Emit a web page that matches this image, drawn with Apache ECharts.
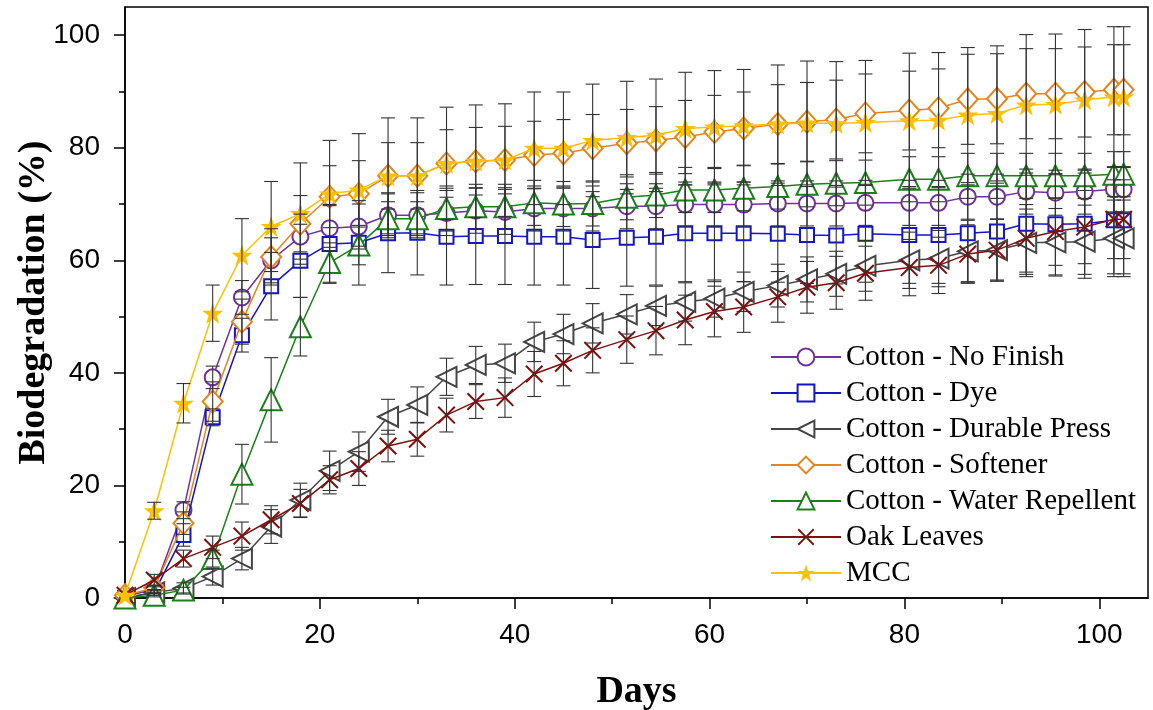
<!DOCTYPE html>
<html><head><meta charset="utf-8">
<script src="https://cdn.jsdelivr.net/npm/echarts@6/dist/echarts.min.js"></script>
<style>html,body{margin:0;padding:0;background:#fff}#c{width:1153px;height:710px}</style>
</head><body><div id="c"></div>
<script>
const days = [0,3,6,9,12,15,18,21,24,27,30,33,36,39,42,45,48,51.5,54.5,57.5,60.5,63.5,67,70,73,76,80.5,83.5,86.5,89.5,92.5,95.5,98.5,101.5,102.5];

const seriesNames = ['Cotton - No Finish','Cotton - Dye','Cotton - Durable Press','Cotton - Softener','Cotton - Water Repellent','Oak Leaves','MCC'];

const noFinish = [0.3,1.5,15.6,39.2,53.4,60.0,64.2,65.7,66.0,68.0,68.0,68.4,68.8,68.6,69.2,69.2,69.2,69.6,69.6,69.9,69.9,69.9,70.1,70.1,70.1,70.2,70.2,70.2,71.3,71.3,72.2,72.0,72.2,72.6,72.6];
const noFinishErr = [0,0.5,1.5,2,3,4,4,4,4,4,4,4,4,4,4,4,4,4,4,4,4,4,4,4,4,4,4,4,4,4,4,4,4,4,4];

const dye = [0.0,1.0,11.2,32.1,46.7,55.4,59.9,62.9,63.1,64.8,64.9,64.2,64.3,64.3,64.2,64.2,63.6,64.0,64.2,64.8,64.8,64.8,64.7,64.5,64.4,64.7,64.5,64.5,64.8,65.1,66.5,66.4,66.5,67.1,67.1];
const dyeErr = [0,0.5,2,1.5,3,6,6.5,7,7.5,7,7.5,8.6,8.6,8.6,8.6,8.6,8.6,8.6,8.6,8.6,8.6,8.6,8.6,8.6,8.6,8.6,8.6,8.6,8.6,8.6,9,9,9,9.5,9.5];

const durable = [0.0,1.0,1.7,3.8,7.0,12.7,17.4,22.6,26.0,32.2,34.3,39.3,41.4,41.7,45.5,46.9,48.8,50.4,51.9,52.6,53.2,54.4,55.5,56.6,57.6,59.0,60.0,60.3,61.6,61.8,63.1,63.2,63.3,63.9,63.9];
const durableErr = [0,0.5,1,1.5,2,3,3,3.5,3.5,3.1,3.2,3.3,3.3,3.4,3.5,3.5,3.5,3.5,3.5,3.4,3.3,3.5,3.8,4,4,4.5,5,5,5.5,5.5,6,6,6.5,6.8,6.8];

const softener = [0.5,1.8,13.3,34.9,49.1,60.6,66.5,71.3,71.8,75.0,75.0,77.2,77.6,77.8,78.7,79.0,79.9,80.8,81.3,81.9,82.8,83.4,84.2,84.6,85.0,86.1,86.6,87.0,88.6,88.7,89.6,89.6,89.9,90.3,90.3];
const softenerErr = [0,0.5,2,3.5,4,5,5,5.5,5.9,5.9,5.9,6,6,6,6,6,6,6,6,6.5,6.5,6.5,7,7,7,7,7,7,8,8,8,8,8,8,8];

const water = [0.0,0.5,1.4,7.0,22.0,35.2,48.2,59.6,62.7,67.4,67.4,69.2,69.5,69.5,70.2,70.0,70.1,71.2,71.6,72.5,72.5,72.8,73.1,73.5,73.7,73.8,74.4,74.4,75.0,75.0,75.0,75.0,75.0,75.3,75.3];
const waterErr = [0,0.3,0.5,1.5,5.3,7.5,5.2,3.5,3.5,3,3,4,4,4,4,4,4,4,4,4,4,4,4,4,4,4,4,4,4,4,4,4,4,4,4];

const oak = [0.5,3.2,7.0,9.0,11.0,13.9,16.8,21.0,23.0,27.0,28.2,32.5,34.9,35.6,39.8,41.7,44.0,45.9,47.5,49.4,50.9,51.7,53.5,55.2,56.0,57.7,58.7,59.1,61.1,61.8,63.9,65.1,65.9,67.3,67.3];
const oakErr = [0,1,1.5,2,2.5,2.5,2.5,2.5,3,2.8,3,3,3,3.5,4,4,4,4.2,4.3,4.4,4.5,4.5,4.5,4.6,4.7,4.8,5,5,5.2,5.5,6,6,6.5,7,7];

const mcc = [0.5,15.5,34.6,50.6,60.9,66.0,68.3,71.8,72.5,75.0,75.0,77.2,77.6,77.8,79.9,79.9,81.3,81.8,82.2,83.4,83.7,83.9,84.2,84.4,84.3,84.5,84.8,84.9,85.8,86.1,87.6,87.7,88.5,89.0,89.0];
const mccErr = [0,1.5,3.5,5,6.5,8,9,9.5,10,10.3,10.3,10,10,10,10,10,10,10,10,10,10,10,10.5,11,11,11,12,12,12,12,12.5,12.5,12.5,12.5,12.5];

const xMajorTicks = [0,20,40,60,80,100];
const xMinorTicks = [10,30,50,70,90];
const yMajorTicks = [0,20,40,60,80,100];
const yMinorTicks = [10,30,50,70,90];

const STAR = 'path://M50,0L61.8,35.1L98.9,35.1L68.9,56.7L80.3,91.9L50,70.1L19.7,91.9L31.1,56.7L1.1,35.1L38.2,35.1Z';
const XMARK = 'path://M0,1.6L1.6,0L10,8.4L18.4,0L20,1.6L11.6,10L20,18.4L18.4,20L10,11.6L1.6,20L0,18.4L8.4,10Z';

const styles = [
  {color:'#70309F', symbol:'emptyCircle', size:16, rot:0, bw:2},
  {color:'#1414C8', symbol:'emptyRect', size:14, rot:0, bw:2},
  {color:'#454545', symbol:'emptyTriangle', size:20, rot:90, bw:2},
  {color:'#E8841A', symbol:'emptyDiamond', size:[20,22], rot:0, bw:2},
  {color:'#1A801A', symbol:'emptyTriangle', size:21, rot:0, bw:2},
  {color:'#7F1010', symbol:XMARK, size:18, rot:0, bw:0},
  {color:'#FFC000', symbol:STAR, size:21, rot:0, bw:0}
];
const values = [noFinish, dye, durable, softener, water, oak, mcc];
const errs = [noFinishErr, dyeErr, durableErr, softenerErr, waterErr, oakErr, mccErr];

function renderErr(params, api) {
  const x = api.value(0), lo = api.value(1), hi = api.value(2);
  if (hi - lo <= 0.01) return null;
  const a = api.coord([x, hi]), b = api.coord([x, lo]);
  const w = 7;
  const st = {stroke:'#333', lineWidth:1.1};
  return {type:'group', children:[
    {type:'line', shape:{x1:a[0],y1:a[1],x2:b[0],y2:b[1]}, style:st},
    {type:'line', shape:{x1:a[0]-w,y1:a[1],x2:a[0]+w,y2:a[1]}, style:st},
    {type:'line', shape:{x1:b[0]-w,y1:b[1],x2:b[0]+w,y2:b[1]}, style:st}
  ]};
}

const series = [];
values.forEach((v, k) => {
  const s = styles[k];
  series.push({
    name: seriesNames[k], type:'line', xAxisIndex:0, yAxisIndex:0,
    data: days.map((d,i)=>[d, v[i]]),
    symbol: s.symbol, symbolSize: s.size, symbolRotate: s.rot,
    lineStyle:{color:s.color, width:1.5},
    itemStyle:{color:s.color, borderWidth:s.bw},
    emphasis:{disabled:true}, animation:false, z: 3 + k
  });
});
values.forEach((v, k) => {
  const e = errs[k];
  series.push({
    type:'custom', xAxisIndex:0, yAxisIndex:0, renderItem: renderErr,
    data: days.map((d,i)=>[d, v[i]-e[i], v[i]+e[i]]),
    encode:{x:0, y:[1,2]}, z: 20, animation:false, silent:true
  });
});

const labelFont = {fontFamily:'Liberation Sans', fontSize:28, color:'#000'};
const chart = echarts.init(document.getElementById('c'), null, {renderer:'canvas'});
chart.setOption({
  animation:false,
  grid:{left:125, right:5, top:7, bottom:112, containLabel:false, outerBoundsMode:'none',
        show:true, borderColor:'#000', borderWidth:1.5, backgroundColor:'transparent'},
  legend:{
    data: seriesNames, orient:'vertical', left:765, top:337,
    itemWidth:70, itemHeight:21, itemGap:6,
    textStyle:{fontFamily:'Liberation Serif', fontSize:29, color:'#000', lineHeight:30}
  },
  xAxis:[
    {type:'value', min:0, max:105, position:'bottom',
     name:'Days', nameLocation:'middle', nameGap:75, nameMoveOverlap:false,
     nameTextStyle:{fontFamily:'Liberation Serif', fontWeight:'bold', fontSize:38, color:'#000'},
     axisLine:{show:true, onZero:false, lineStyle:{color:'#000', width:1.5}},
     axisTick:{show:true, inside:false, length:11, customValues:xMajorTicks, lineStyle:{color:'#000', width:1.5}},
     axisLabel:Object.assign({margin:23, customValues:xMajorTicks}, labelFont),
     splitLine:{show:false}},
    {type:'value', min:0, max:105, position:'bottom', offset:0,
     axisLine:{show:false}, axisLabel:{show:false}, splitLine:{show:false},
     axisTick:{show:true, inside:false, length:6, customValues:xMinorTicks, lineStyle:{color:'#000', width:1.5}}}
  ],
  yAxis:[
    {type:'value', min:0, max:105, position:'left',
     name:'Biodegradation (%)', nameLocation:'middle', nameGap:72, nameRotate:90, nameMoveOverlap:false,
     nameTextStyle:{fontFamily:'Liberation Serif', fontWeight:'bold', fontSize:38, color:'#000'},
     axisLine:{show:true, onZero:false, lineStyle:{color:'#000', width:1.5}},
     axisTick:{show:true, inside:false, length:11, customValues:yMajorTicks, lineStyle:{color:'#000', width:1.5}},
     axisLabel:Object.assign({margin:25, customValues:yMajorTicks}, labelFont),
     splitLine:{show:false}},
    {type:'value', min:0, max:105, position:'left', offset:0,
     axisLine:{show:false}, axisLabel:{show:false}, splitLine:{show:false},
     axisTick:{show:true, inside:false, length:6, customValues:yMinorTicks, lineStyle:{color:'#000', width:1.5}}}
  ],
  series: series
});
</script></body></html>
